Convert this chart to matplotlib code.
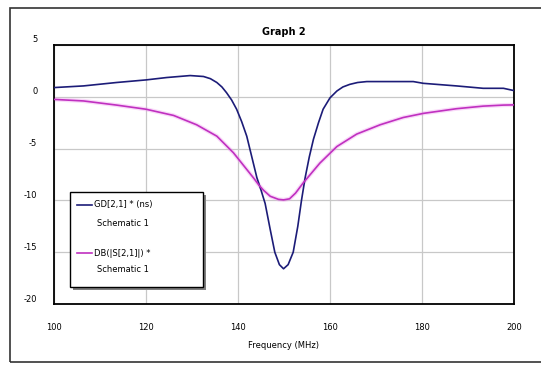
import matplotlib
matplotlib.use("Agg")
import matplotlib.pyplot as plt
from matplotlib.patches import Rectangle
from matplotlib.lines import Line2D
import matplotlib.transforms as mtransforms

plt.rcParams["axes.unicode_minus"] = False

# values
freq_gd = [100, 106.4, 113.6, 120, 124.5, 129.6, 132.5, 134, 135.4, 136.5,
           137.5, 138.6, 139.7, 140.8, 141.9, 143, 144.1, 145, 145.9, 147,
           148, 149, 149.9, 150.9, 152, 153, 153.8, 154.6, 155.5, 156.4,
           157.5, 158.5, 160, 161.5, 162.8, 164.3, 166, 168, 178.1, 180.3,
           187.5, 193.3, 197.7, 200]
gd_ns = [0.89, 1.05, 1.38, 1.63, 1.86, 2.05, 1.96, 1.75, 1.38, 0.95,
         0.4, -0.3, -1.2, -2.4, -3.8, -5.8, -7.8, -9.0, -10.3, -12.8,
         -15.0, -16.2, -16.6, -16.2, -15.0, -12.5, -10.0, -7.8, -5.8, -4.1,
         -2.5, -1.2, -0.1, 0.56, 0.95, 1.2, 1.38, 1.47, 1.47, 1.3,
         1.05, 0.82, 0.82, 0.6]

freq_db = [100, 106.4, 113.6, 120, 126, 131, 135.4, 139, 142.6, 143.5, 144.5,
           145.5, 147, 148.8, 149.9, 151.2, 152.5, 154.2, 157.8, 161.5, 165.8,
           170.9, 175.9, 180.3, 187.5, 193.3, 197.7, 200]
db_s21 = [-0.25, -0.4, -0.8, -1.2, -1.8, -2.7, -3.8, -5.4, -7.4, -7.9, -8.5,
          -9.0, -9.6, -9.9, -9.95, -9.85, -9.3, -8.3, -6.4, -4.8, -3.6,
          -2.7, -2.0, -1.6, -1.15, -0.9, -0.8, -0.78]

x_ticks = [100, 120, 140, 160, 180, 200]
y_ticks = [5, 0, -5, -10, -15, -20]

W, H = 541, 365
fig = plt.figure(figsize=(W / 100, H / 100), dpi=100)
fig.patch.set_facecolor("white")

def fx(px):
    return px / W

def fy(py):
    return 1 - py / H

# outer frame
fig.patches.append(Rectangle((fx(10), fy(362)), fx(545) - fx(10), fy(8) - fy(362),
                             transform=fig.transFigure, fill=False,
                             edgecolor="#333333", linewidth=1.2))

ax = fig.add_axes([fx(54), fy(304), fx(514) - fx(54), fy(45) - fy(304)])
ax.plot(freq_gd, gd_ns, color="#1c1c78", linewidth=1.2, zorder=3)
ax.plot(freq_db, db_s21, color="#c030c0", linewidth=1.2, zorder=3)
ax.plot(freq_db, db_s21, color="#f0a0f0", linewidth=3, alpha=0.4, zorder=2)

ax.set_xlim(100, 200)
ax.set_ylim(-20, 5)
ax.set_xticks(x_ticks)
ax.set_yticks(y_ticks)
ax.grid(True, color="#c8c8c8", linewidth=0.9)
ax.tick_params(length=0, labelsize=6, pad=14)
ax.tick_params(axis="y", pad=12)
for lab in ax.get_yticklabels():
    lab.set_transform(lab.get_transform() +
                      mtransforms.ScaledTranslation(0, 6 / 100, fig.dpi_scale_trans))
for s in ax.spines.values():
    s.set_linewidth(1.3)
    s.set_color("black")

ax.set_title("Graph 2", fontsize=7, fontweight="bold", pad=7)
ax.set_xlabel("Frequency (MHz)", fontsize=6, labelpad=6)

# legend box drawn by hand
lx0, lx1, ly0, ly1 = 70, 203, 192, 287
fig.patches.append(Rectangle((fx(lx0 + 3), fy(ly1 + 3)), fx(lx1) - fx(lx0), fy(ly0) - fy(ly1),
                             transform=fig.transFigure, facecolor="#808080",
                             edgecolor="none", zorder=5))
fig.patches.append(Rectangle((fx(lx0), fy(ly1)), fx(lx1) - fx(lx0), fy(ly0) - fy(ly1),
                             transform=fig.transFigure, facecolor="white",
                             edgecolor="black", linewidth=1.0, zorder=6))
entries = [("GD[2,1] * (ns)", "#1c1c78", 205, 223),
           ("DB(|S[2,1]|) *", "#c030c0", 253, 270)]
for label, col, y1, y2 in entries:
    fig.lines.append(Line2D([fx(77), fx(92)], [fy(y1), fy(y1)], transform=fig.transFigure,
                            color=col, linewidth=1.2, zorder=7))
    fig.text(fx(94), fy(y1), label, fontsize=6, va="center", ha="left", zorder=7)
    fig.text(fx(97), fy(y2), "Schematic 1", fontsize=6, va="center", ha="left", zorder=7)

fig.savefig("out.png", dpi=100)
